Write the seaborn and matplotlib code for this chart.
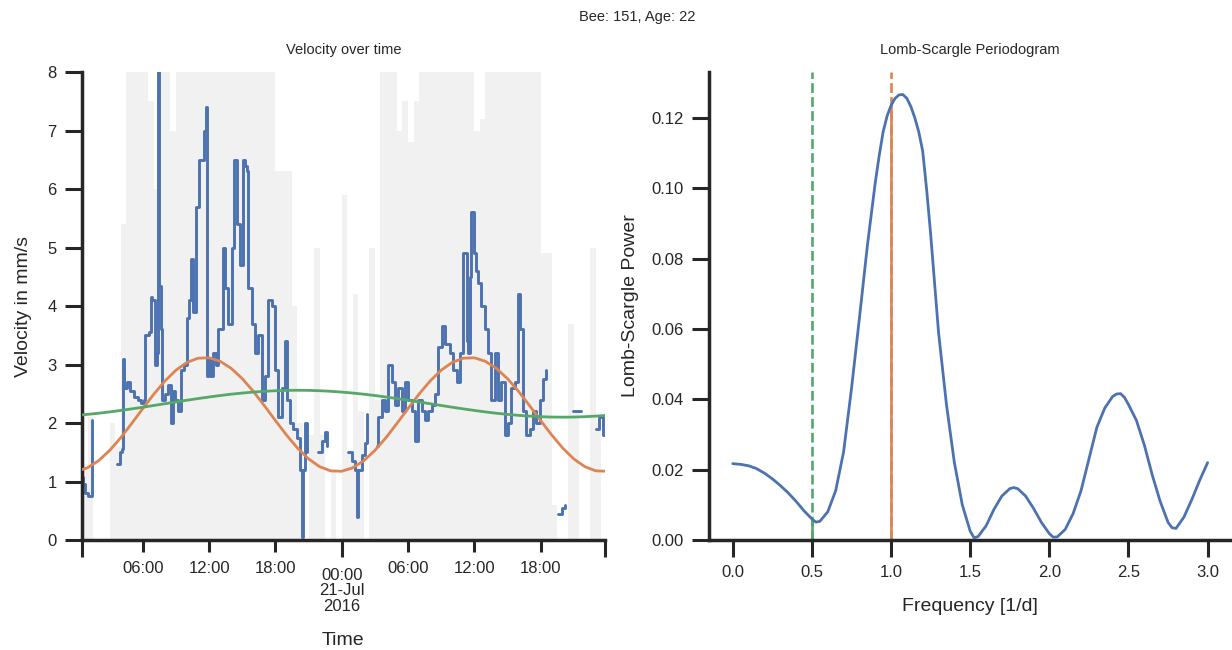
import numpy as np
import pandas as pd
import matplotlib
matplotlib.use("Agg")
import matplotlib.pyplot as plt
import matplotlib.dates as mdates
import seaborn as sns

# ---- left panel data: hours since 2016-07-20 00:00 ----
day_start = "2016-07-20 00:00"
x_limits_h = [0.47, 47.83]

# rolling mean velocity (mm/s), nan marks a gap in the track
mean_hours = [0.47, 0.59, 0.77, 1.04, 1.31, 1.40, 1.50,
              3.69, 3.94, 4.13, 4.21, 4.30, 4.57, 4.84, 5.20, 5.56, 5.84, 6.11, 6.20, 6.56,
              6.74, 6.83, 7.10, 7.28, 7.37, 7.46, 7.64, 7.73, 8.00, 8.28, 8.55, 8.73, 8.91,
              9.18, 9.45, 9.73, 10.00, 10.18, 10.36, 10.54, 10.81, 11.09, 11.36, 11.54, 11.72,
              11.81, 11.99, 12.17, 12.35, 12.62, 12.83, 13.28, 13.44, 13.74, 14.05, 14.28,
              14.50, 14.80, 15.10, 15.25, 15.40, 15.55, 15.86, 16.15, 16.45, 16.76, 17.06,
              17.36, 17.67, 17.96, 18.26, 18.57, 18.87, 19.02, 19.32, 19.62, 19.93, 20.23,
              20.38, 20.52, 20.68, 20.83, 20.95,
              21.88, 22.19, 22.49, 22.64, 22.70,
              24.60, 24.90, 25.20, 25.36, 25.50, 25.81, 26.11, 26.26, 26.35,
              27.17, 27.31, 27.62, 27.92, 28.22, 28.52, 28.82, 29.12, 29.43, 29.73, 30.03,
              30.33, 30.63, 30.93, 31.24, 31.54, 31.84, 32.14, 32.44, 32.74, 33.05, 33.35,
              33.80, 34.10, 34.41, 34.71, 35.00, 35.31, 35.43, 35.61, 35.73, 35.97, 36.18,
              36.33, 36.63, 36.94, 37.24, 37.54, 37.85, 38.14, 38.44, 38.75, 39.05, 39.35,
              39.66, 39.96, 40.11, 40.41, 40.71, 41.01, 41.31, 41.61, 41.92, 42.22, 42.49, 42.60,
              43.58, 43.94, 44.21, 44.30,
              44.93, 45.66, 45.70,
              47.01, 47.29, 47.65, 47.83]
mean_vel = [1.08, 0.95, 0.80, 0.75, 0.75, 2.05, np.nan,
            1.30, 1.50, 1.55, 3.10, 2.60, 2.70, 2.55, 2.45, 2.40, 2.35, 2.40, 3.50, 3.55,
            4.15, 4.10, 3.00, 3.20, 8.50, 4.35, 3.60, 2.40, 2.50, 2.65, 2.00, 2.55, 2.40,
            2.20, 2.90, 3.00, 3.80, 4.10, 4.80, 3.90, 5.70, 6.50, 6.50, 7.00, 7.40,
            2.80, 3.10, 2.80, 3.20, 3.00, 3.60, 5.00, 4.30, 3.70, 5.00, 6.50,
            5.40, 4.70, 6.50, 6.40, 6.30, 4.30, 3.70, 3.20, 3.50, 2.40, 2.80,
            4.10, 4.00, 2.90, 2.10, 2.60, 3.40, 2.40, 2.00, 1.90, 1.75, 1.20,
            0.05, 1.20, 2.00, 1.50, np.nan,
            1.50, 1.70, 1.85, 1.60, np.nan,
            1.50, 1.35, 1.20, 0.40, 1.20, 1.45, 1.65, 2.15, np.nan,
            1.60, 2.10, 2.40, 2.20, 3.00, 2.70, 2.30, 2.60, 2.20, 2.70, 2.40,
            2.20, 1.70, 2.40, 2.20, 2.05, 2.20, 2.30, 2.50, 3.30, 3.65, 3.35,
            3.20, 2.90, 2.70, 3.20, 4.90, 3.40, 3.20, 4.50, 5.60, 4.90, 4.60,
            4.40, 4.00, 3.60, 3.20, 2.40, 3.20, 2.40, 2.70, 1.80, 2.00, 2.60,
            2.70, 4.20, 3.60, 2.20, 1.80, 1.90, 2.20, 2.00, 2.40, 2.75, 2.90, np.nan,
            0.45, 0.55, 0.60, np.nan,
            2.20, 2.20, np.nan,
            1.90, 2.10, 1.80, 1.80]

# highest raw velocity in each 30 min bin (grey background), bins start at 0.5 h
raw_bin_hours = np.arange(0.5, 48.0, 0.5)
raw_peak = [1.3, 2.1, 0.0, 0.0, 0.0, 2.0, 1.6, 5.4, 8.5, 8.5,
            8.5, 8.5, 7.5, 6.0, 8.5, 8.5, 7.0, 8.5, 8.5, 8.5,
            8.5, 8.5, 8.5, 8.5, 8.5, 8.5, 8.5, 8.5, 8.5, 8.5,
            8.5, 8.5, 8.5, 8.5, 8.5, 6.3, 6.3, 6.3, 4.0, 2.0,
            0.0, 1.8, 5.0, 1.8, 0.0, 1.2, 0.0, 5.9, 1.5, 4.2,
            2.2, 0.0, 5.0, 2.4, 8.5, 8.5, 8.5, 7.0, 7.5, 6.8,
            7.5, 8.5, 8.5, 8.5, 8.5, 8.5, 8.5, 8.5, 8.5, 8.5,
            8.5, 7.0, 7.2, 8.5, 8.5, 8.5, 8.5, 8.5, 8.5, 8.5,
            8.5, 8.5, 8.5, 4.9, 4.9, 0.6, 0.0, 0.0, 3.7, 2.2,
            0.0, 0.0, 5.0, 2.0, 0.0]

# cosine fits, hourly from 0 h to 48 h
fit_hours = list(range(49))
fit_24h = [1.175, 1.235, 1.356, 1.531, 1.748, 1.993, 2.247, 2.494, 2.718, 2.903,
           3.036, 3.108, 3.115, 3.055, 2.934, 2.759, 2.542, 2.297, 2.043, 1.796,
           1.572, 1.387, 1.254, 1.182, 1.175, 1.235, 1.356, 1.531, 1.748, 1.993,
           2.247, 2.494, 2.718, 2.903, 3.036, 3.108, 3.115, 3.055, 2.934, 2.759,
           2.542, 2.297, 2.043, 1.796, 1.572, 1.387, 1.254, 1.182, 1.175]
fit_48h = [2.131, 2.148, 2.167, 2.190, 2.215, 2.242, 2.270, 2.300, 2.330, 2.360,
           2.390, 2.418, 2.445, 2.470, 2.493, 2.512, 2.529, 2.542, 2.552, 2.558,
           2.560, 2.558, 2.552, 2.542, 2.529, 2.512, 2.493, 2.470, 2.445, 2.418,
           2.390, 2.360, 2.330, 2.300, 2.270, 2.242, 2.215, 2.190, 2.167, 2.148,
           2.131, 2.118, 2.108, 2.102, 2.100, 2.102, 2.108, 2.118, 2.131]

time_tick_hours = [6, 12, 18, 30, 36, 42]
time_tick_labels = ["06:00", "12:00", "18:00", "06:00", "12:00", "18:00"]
day_tick_hours = [24]
day_tick_labels = ["00:00\n21-Jul\n2016"]

# ---- right panel data ----
freqs = [0.00, 0.05, 0.10, 0.15, 0.20, 0.25, 0.30, 0.35, 0.40, 0.45,
         0.50, 0.525, 0.55, 0.60, 0.65, 0.70, 0.75, 0.80, 0.85, 0.90,
         0.925, 0.95, 0.975, 1.00, 1.025, 1.05, 1.075, 1.10, 1.125, 1.15,
         1.175, 1.20, 1.225, 1.25, 1.30, 1.35, 1.40, 1.45, 1.50, 1.525,
         1.55, 1.60, 1.65, 1.70, 1.75, 1.775, 1.80, 1.85, 1.90, 1.95,
         2.00, 2.025, 2.05, 2.10, 2.15, 2.20, 2.25, 2.30, 2.35, 2.40,
         2.425, 2.45, 2.475, 2.50, 2.55, 2.60, 2.65, 2.70, 2.75, 2.775,
         2.80, 2.85, 2.90, 2.95, 3.00]
power = [0.0217, 0.0215, 0.0211, 0.0203, 0.0190, 0.0174, 0.0155, 0.0134, 0.0110, 0.0083,
         0.0060, 0.0051, 0.0053, 0.0080, 0.0140, 0.0250, 0.0430, 0.0630, 0.0835, 0.1015,
         0.1092, 0.1160, 0.1205, 0.1235, 0.1255, 0.1265, 0.1266, 0.1255, 0.1232, 0.1200,
         0.1160, 0.1105, 0.0995, 0.0870, 0.0590, 0.0385, 0.0220, 0.0100, 0.0025, 0.0006,
         0.0010, 0.0040, 0.0087, 0.0125, 0.0146, 0.0149, 0.0146, 0.0125, 0.0090, 0.0050,
         0.0018, 0.0008, 0.0009, 0.0030, 0.0075, 0.0140, 0.0230, 0.0320, 0.0375, 0.0408,
         0.0415, 0.0416, 0.0405, 0.0385, 0.0340, 0.0270, 0.0185, 0.0110, 0.0050, 0.0035,
         0.0033, 0.0065, 0.0115, 0.0170, 0.0220]
marked_freqs = [0.5, 1.0]

sns.set_theme(style="ticks")
plt.rcParams["font.family"] = ["Liberation Sans", "DejaVu Sans"]
plt.rcParams["axes.linewidth"] = 2.5
plt.rcParams["xtick.major.width"] = 2.2
plt.rcParams["ytick.major.width"] = 2.2
plt.rcParams["xtick.minor.width"] = 2.2

blue, orange, green = sns.color_palette("deep")[:3]

base = pd.Timestamp(day_start)


def to_num(hours):
    t = base + pd.to_timedelta(np.asarray(hours, dtype=float), unit="h")
    return mdates.date2num(t.to_pydatetime())


fig = plt.figure(figsize=(12.32, 6.5), dpi=100)
ax1 = fig.add_axes([0.0663, 0.1692, 0.4248, 0.72])
ax2 = fig.add_axes([0.5755, 0.1692, 0.4240, 0.72])

# raw velocity as light grey background
edges = list(raw_bin_hours) + [48.0]
ax1.fill_between(to_num(edges), 0, list(raw_peak) + [raw_peak[-1]], step="post",
                 color="#f1f1f1", lw=0, zorder=0)

df_mean = pd.DataFrame({"hours": mean_hours, "vel": mean_vel})
df_mean["seg"] = df_mean["vel"].isna().cumsum()
df_mean = df_mean.dropna()
df_mean["time"] = to_num(df_mean["hours"])
sns.lineplot(data=df_mean, x="time", y="vel", units="seg", estimator=None, ax=ax1,
             color=blue, lw=2.1, drawstyle="steps-post", zorder=2)

df_fit = pd.DataFrame({"time": to_num(fit_hours), "f24": fit_24h, "f48": fit_48h})
sns.lineplot(data=df_fit, x="time", y="f24", ax=ax1, color=orange, lw=2.0, zorder=3)
sns.lineplot(data=df_fit, x="time", y="f48", ax=ax1, color=green, lw=2.0, zorder=3)

ax1.set_xlim(to_num(x_limits_h))
ax1.set_ylim(0, 8)
ax1.set_yticks(range(9))
ax1.set_xticks(list(to_num([x_limits_h[0]])) + list(to_num(day_tick_hours)) + list(to_num([x_limits_h[1]])),
               [""] + day_tick_labels + [""])
ax1.set_xticks(to_num(time_tick_hours), time_tick_labels, minor=True)
for lbl in ax1.get_xticklabels():
    lbl.set_linespacing(1.05)
ax1.tick_params(axis="x", which="major", length=12, width=2.2, pad=8, labelsize=12)
ax1.tick_params(axis="x", which="minor", length=8.5, width=2.2, pad=6.5, labelsize=12)
ax1.tick_params(axis="y", length=12, width=2.2, pad=6, labelsize=12)
ax1.set_title("Velocity over time", fontsize=10.5, pad=13)
ax1.set_xlabel("Time", fontsize=14)
ax1.set_ylabel("Velocity in mm/s", fontsize=14)
ax1.xaxis.set_label_coords(0.5, -0.196)
ax1.yaxis.set_label_coords(-0.095, 0.5)

# periodogram
sns.lineplot(x=freqs, y=power, ax=ax2, color=blue, lw=2.0, zorder=3)
for f, c in zip(marked_freqs, [green, orange]):
    ax2.axvline(f, color=c, ls="--", lw=1.9, zorder=2)
    ax2.vlines(f, 0, power[freqs.index(f)], color=c, lw=1.9, zorder=2)
ax2.set_xlim(-0.15, 3.15)
ax2.set_ylim(0, 0.133)
ax2.set_xticks(np.arange(0, 3.01, 0.5))
ax2.set_yticks(np.arange(0, 0.121, 0.02))
ax2.xaxis.set_major_formatter(plt.FormatStrFormatter("%.1f"))
ax2.yaxis.set_major_formatter(plt.FormatStrFormatter("%.2f"))
ax2.tick_params(axis="both", length=12, width=2.2, pad=6, labelsize=12)
ax2.set_title("Lomb-Scargle Periodogram", fontsize=10.5, pad=13)
ax2.set_xlabel("Frequency [1/d]", fontsize=14)
ax2.set_ylabel("Lomb-Scargle Power", fontsize=14)
ax2.xaxis.set_label_coords(0.5, -0.124)
ax2.yaxis.set_label_coords(-0.134, 0.5)

sns.despine(fig=fig)
fig.suptitle("Bee: 151, Age: 22", x=0.517, y=1 - 17 / 650, va="center", fontsize=10.5)

fig.savefig("out.png", dpi=100)
